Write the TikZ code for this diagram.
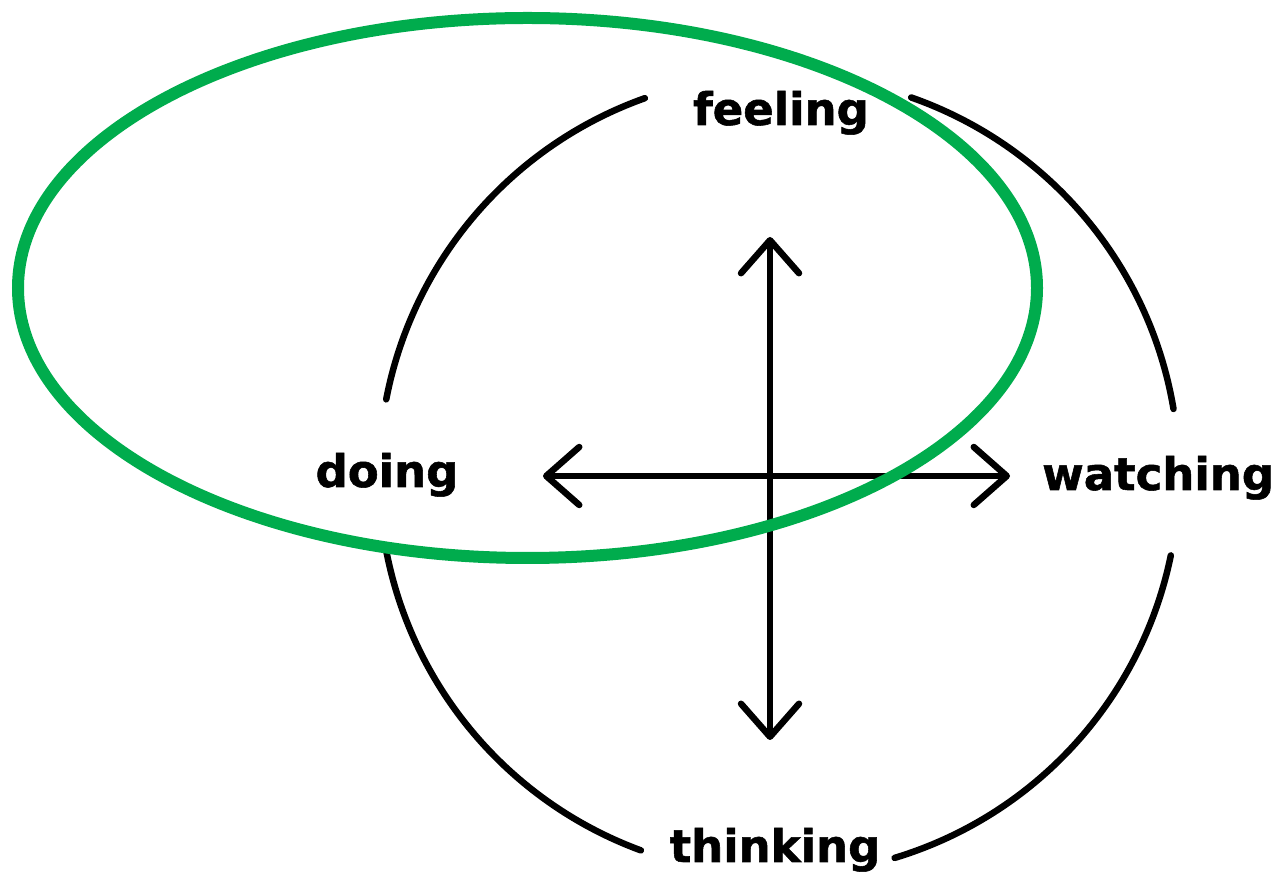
\documentclass[tikz,border=0pt]{standalone}
\usepackage{fontspec}
\setmainfont{DejaVu Sans}
\newfontfamily\heavyfont{DejaVu Sans Bold}[FakeBold=1.2]
\usetikzlibrary{arrows.meta,shapes.geometric}
\definecolor{ovalgreen}{RGB}{0,172,77}
\tikzset{
  lbl/.style={font=\fontsize{45}{45}\selectfont\heavyfont, inner sep=0pt, text=black},
  ring/.style={draw=black, line width=6.5pt, line cap=round},
  barbtip/.tip={Straight Barb[length=33pt, width=58pt, line width=6.5pt, round]},
  axis/.style={draw=black, line width=6.5pt, line cap=round, barbtip-barbtip},
  oval/.style={draw=ovalgreen, line width=12pt}
}
\begin{document}
\begin{tikzpicture}[x=1pt, y=1pt]
\useasboundingbox (0,0) rectangle (1285,878);
\coordinate (c) at (779,403);
% circle arcs
\draw[ring] ([shift={(109.6:400)}]c) arc[start angle=109.6, end angle=169.1, radius=400];
\draw[ring] ([shift={(190.6:400)}]c) arc[start angle=190.6, end angle=249.8, radius=400];
\draw[ring] ([shift={(286.8:400)}]c) arc[start angle=286.8, end angle=348.4, radius=400];
\draw[ring] ([shift={(9.5:400)}]c) arc[start angle=9.5, end angle=70.7, radius=400];
% labels
\node[lbl, anchor=base] (feeling) at (781,753) {feeling};
\node[lbl, anchor=base] (doing) at (387,391) {doing};
\node[lbl, anchor=base west] (watching) at (1042,388) {watching};
\node[lbl, anchor=base] (thinking) at (775,16) {thinking};
% axes
\coordinate (up) at (770,641);
\coordinate (down) at (770,138);
\coordinate (left) at (543,402);
\coordinate (right) at (1010,402);
\draw[axis] (down) -- (up);
\draw[axis] (left) -- (right);
% green oval
\node[oval, ellipse, minimum width=1019pt, minimum height=540pt, inner sep=0pt] (ov) at (527.5,590) {};
\end{tikzpicture}
\end{document}
